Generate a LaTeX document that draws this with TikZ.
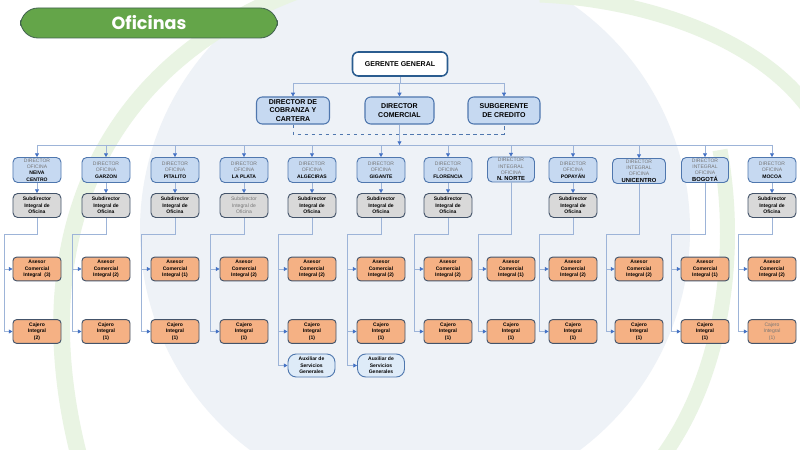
\documentclass[tikz,border=0pt]{standalone}
\usepackage{fontspec}
\setmainfont{Liberation Sans}
\newfontfamily\titlefont{Poppins}
\usetikzlibrary{arrows.meta}

\definecolor{titlegreen}{HTML}{64A549}
\definecolor{titleedge}{HTML}{41624F}
\definecolor{topedge}{HTML}{2A5C8F}
\definecolor{dirfill}{HTML}{C6D9F1}
\definecolor{diredge}{HTML}{4F77AE}
\definecolor{subfill}{HTML}{D9D9D9}
\definecolor{darkedge}{HTML}{44546A}
\definecolor{asefill}{HTML}{F5B184}
\definecolor{auxfill}{HTML}{DEEBF8}
\definecolor{linkblue}{HTML}{9DB4D8}
\definecolor{tipblue}{HTML}{4472C4}
\definecolor{ofigray}{HTML}{767676}
\definecolor{globe}{HTML}{EEF2F7}
\definecolor{swoosh}{HTML}{E9F4E3}

\newcommand{\boxfont}{\fontsize{4.3}{5.5}\selectfont}
\newcommand{\ofi}[1]{\textcolor{ofigray}{DIRECTOR}\\\textcolor{ofigray}{OFICINA}\\\textbf{#1}}
\newcommand{\ofiint}[1]{\textcolor{ofigray}{DIRECTOR}\\\textcolor{ofigray}{INTEGRAL}\\\textcolor{ofigray}{OFICINA}\\{\fontsize{5}{5.5}\selectfont\textbf{#1}}}

\begin{document}
\begin{tikzpicture}[x=0.03cm, y=-0.03cm,
    topbox/.style={draw=topedge, line width=1.3pt, fill=white, rounded corners=5pt,
        minimum width=2.85cm, minimum height=0.72cm, font=\fontsize{6}{7}\selectfont\bfseries},
    headbox/.style={draw=diredge, line width=0.9pt, fill=dirfill, rounded corners=5pt,
        minimum height=0.81cm, align=center, inner sep=1pt, font=\fontsize{6}{7}\selectfont\bfseries},
    ofibox/.style={draw=diredge, line width=0.8pt, fill=dirfill, rounded corners=4pt,
        minimum width=1.44cm, minimum height=0.75cm, align=center, inner sep=0.5pt, font=\boxfont},
    subbox/.style={draw=darkedge, line width=0.8pt, fill=subfill, rounded corners=4pt,
        minimum width=1.44cm, minimum height=0.72cm, align=center, inner sep=1pt, font=\boxfont\bfseries},
    asebox/.style={draw=darkedge, line width=0.8pt, fill=asefill, rounded corners=3pt,
        minimum width=1.44cm, minimum height=0.71cm, align=center, inner sep=1pt, font=\boxfont\bfseries},
    auxbox/.style={draw=diredge, line width=0.8pt, fill=auxfill, rounded corners=7pt,
        minimum width=1.41cm, minimum height=0.69cm, align=center, inner sep=1pt, font=\boxfont\bfseries},
    faded/.style={font=\boxfont, text=ofigray},
    link/.style={draw=linkblue, line width=0.6pt},
    tip/.style={-{Triangle[length=3.2pt, width=3.4pt, color=tipblue]}}
]

    % Page and background globe
    \useasboundingbox (0,0) rectangle (800,450);
    \fill[white] (0,0) rectangle (800,450);
    \begin{scope}
        \clip (0,0) rectangle (800,450);
        \fill[globe] (415,230) circle (275);
        \draw[swoosh, line width=0.5cm] (300,-10) .. controls (110,60) and (20,230) .. (80,460);
        \draw[swoosh, line width=0.45cm] (540,-5) .. controls (650,0) and (760,40) .. (810,110);
        \draw[swoosh, line width=0.45cm] (720,150) .. controls (740,260) and (720,380) .. (660,460);
    \end{scope}

    % Title bar
    \node[draw=titleedge, line width=0.7pt, fill=titlegreen, rounded corners=15pt,
        minimum width=7.71cm, minimum height=0.9cm, text=white,
        font=\titlefont\fontsize{15}{16}\selectfont\bfseries] (title) at (149,23) {Oficinas};

    % Top of the chart
    \node[topbox] (gg) at (400,64) {GERENTE GENERAL};
    \node[headbox, minimum width=2.19cm] (cob) at (293,110.5) {DIRECTOR DE\\COBRANZA Y\\CARTERA};
    \node[headbox, minimum width=2.07cm] (com) at (399.5,110.5) {DIRECTOR\\COMERCIAL};
    \node[headbox, minimum width=2.16cm] (sge) at (504,110.5) {SUBGERENTE\\DE CREDITO};

    \coordinate (split) at (400,83);
    \draw[link] (gg.south) -- (split);
    \draw[link] (cob.north |- split) -- (sge.north |- split);
    \draw[link, tip] (cob.north |- split) -- (cob.north);
    \draw[link, tip] (com.north |- split) -- (com.north);
    \draw[link, tip] (sge.north |- split) -- (sge.north);

    % Dashed link between the three heads
    \coordinate (dash) at (400,134);
    \draw[diredge, dashed, line width=0.8pt] (cob.south) |- (dash) -| (sge.south);

    % Office directors
    \node[ofibox] (d1) at (37,170) {\ofi{NEIVA}\\\textbf{CENTRO}};
    \node[ofibox] (d2) at (106,170) {\ofi{GARZON}};
    \node[ofibox] (d3) at (175,170) {\ofi{PITALITO}};
    \node[ofibox] (d4) at (244,170) {\ofi{LA PLATA}};
    \node[ofibox] (d5) at (312,170) {\ofi{ALGECIRAS}};
    \node[ofibox] (d6) at (381,170) {\ofi{GIGANTE}};
    \node[ofibox] (d7) at (448,170) {\ofi{FLORENCIA}};
    \node[ofibox, minimum width=1.41cm] (d8) at (511,169.5) {\ofiint{N. NORTE}};
    \node[ofibox] (d9) at (573,170) {\ofi{POPAYÁN}};
    \node[ofibox, minimum width=1.59cm] (d10) at (639,171) {\ofiint{UNICENTRO}};
    \node[ofibox, minimum width=1.41cm] (d11) at (705,170) {\ofiint{BOGOTÁ}};
    \node[ofibox] (d12) at (772,170) {\ofi{MOCOA}};

    % Bus from the commercial director
    \coordinate (bus) at (399.5,145);
    \draw[link, tip] (com.south) -- (bus);
    \draw[link] (d1.north |- bus) -- (d12.north |- bus);
    \foreach \i in {1,...,12}
        \draw[link, tip] (d\i.north |- bus) -- (d\i.north);

    % Subdirectors
    \node[subbox] (s1) at (37,205.5) {Subdirector\\Integral de\\Oficina};
    \node[subbox] (s2) at (106,205.5) {Subdirector\\Integral de\\Oficina};
    \node[subbox] (s3) at (175,205.5) {Subdirector\\Integral de\\Oficina};
    \node[subbox, faded] (s4) at (244,205.5) {Subdirector\\Integral de\\Oficina};
    \node[subbox] (s5) at (312,205.5) {Subdirector\\Integral de\\Oficina};
    \node[subbox] (s6) at (381,205.5) {Subdirector\\Integral de\\Oficina};
    \node[subbox] (s7) at (448,205.5) {Subdirector\\Integral de\\Oficina};
    \node[subbox] (s9) at (573,205.5) {Subdirector\\Integral de\\Oficina};
    \node[subbox] (s12) at (772,205.5) {Subdirector\\Integral de\\Oficina};
    \foreach \i in {1,2,3,4,5,6,7,9,12}
        \draw[link, tip] (d\i.south) -- (s\i.north);

    % Commercial advisers
    \node[asebox] (a1) at (37,269) {Asesor\\Comercial\\Integral\ \ (3)};
    \node[asebox] (a2) at (106,269) {Asesor\\Comercial\\Integral (2)};
    \node[asebox] (a3) at (175,269) {Asesor\\Comercial\\Integral (1)};
    \node[asebox] (a4) at (244,269) {Asesor\\Comercial\\Integral (2)};
    \node[asebox] (a5) at (312,269) {Asesor\\Comercial\\Integral (2)};
    \node[asebox] (a6) at (381,269) {Asesor\\Comercial\\Integral (2)};
    \node[asebox] (a7) at (448,269) {Asesor\\Comercial\\Integral (2)};
    \node[asebox] (a8) at (511,269) {Asesor\\Comercial\\Integral (1)};
    \node[asebox] (a9) at (573,269) {Asesor\\Comercial\\Integral (2)};
    \node[asebox] (a10) at (639,269) {Asesor\\Comercial\\Integral (2)};
    \node[asebox] (a11) at (705,269) {Asesor\\Comercial\\Integral (1)};
    \node[asebox] (a12) at (772,269) {Asesor\\Comercial\\Integral (2)};

    % Cashiers
    \node[asebox] (c1) at (37,331.5) {Cajero\\Integral\\(2)};
    \node[asebox] (c2) at (106,331.5) {Cajero\\Integral\\(1)};
    \node[asebox] (c3) at (175,331.5) {Cajero\\Integral\\(1)};
    \node[asebox] (c4) at (244,331.5) {Cajero\\Integral\\(1)};
    \node[asebox] (c5) at (312,331.5) {Cajero\\Integral\\(1)};
    \node[asebox] (c6) at (381,331.5) {Cajero\\Integral\\(1)};
    \node[asebox] (c7) at (448,331.5) {Cajero\\Integral\\(1)};
    \node[asebox] (c8) at (511,331.5) {Cajero\\Integral\\(1)};
    \node[asebox] (c9) at (573,331.5) {Cajero\\Integral\\(1)};
    \node[asebox] (c10) at (639,331.5) {Cajero\\Integral\\(1)};
    \node[asebox] (c11) at (705,331.5) {Cajero\\Integral\\(1)};
    \node[asebox, faded] (c12) at (772,331.5) {Cajero\\Integral\\(1)};

    % General services helpers
    \node[auxbox] (x5) at (311.5,365.5) {Auxiliar de\\Servicios\\Generales};
    \node[auxbox] (x6) at (381,365.5) {Auxiliar de\\Servicios\\Generales};

    % Rails on the left of each column
    \coordinate (r1) at (4,234);
    \coordinate (r2) at (72,234);
    \coordinate (r3) at (141,234);
    \coordinate (r4) at (210,234);
    \coordinate (r5) at (278,234);
    \coordinate (r6) at (347,234);
    \coordinate (r7) at (414,234);
    \coordinate (r8) at (478,234);
    \coordinate (r9) at (539,234);
    \coordinate (r10) at (606,234);
    \coordinate (r11) at (671,234);
    \coordinate (r12) at (738,234);

    \foreach \i in {1,2,3,4,7,9,12}
        \draw[link, tip] (s\i.south) |- (r\i) |- (c\i.west);
    \foreach \i in {8,10,11}
        \draw[link, tip] (d\i.south) |- (r\i) |- (c\i.west);
    \foreach \i in {5,6}
        \draw[link, tip] (s\i.south) |- (r\i) |- (x\i.west);
    \foreach \i in {1,...,12}
        \draw[link, tip] (r\i |- a\i.west) -- (a\i.west);
    \foreach \i in {5,6}
        \draw[link, tip] (r\i |- c\i.west) -- (c\i.west);

\end{tikzpicture}
\end{document}
